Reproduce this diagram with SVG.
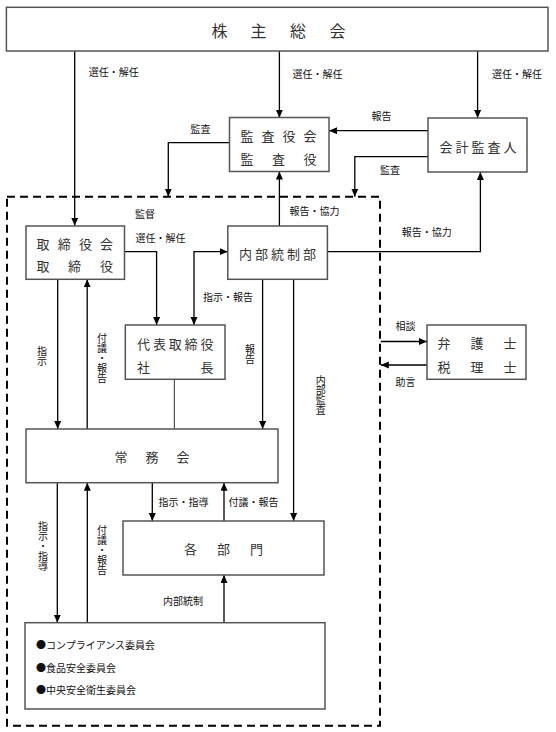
<svg xmlns="http://www.w3.org/2000/svg" width="556" height="732" viewBox="0 0 556 732">
<defs>
<marker id="ah" markerUnits="userSpaceOnUse" markerWidth="9" markerHeight="8" refX="8" refY="3.5" orient="auto">
<path d="M0,0 L8,3.5 L0,7 z" fill="#000"/>
</marker>
<marker id="ahs" markerUnits="userSpaceOnUse" markerWidth="9" markerHeight="8" refX="8" refY="3.5" orient="auto-start-reverse">
<path d="M0,0 L8,3.5 L0,7 z" fill="#000"/>
</marker>
<style>
.box{fill:#fff;stroke:#555;stroke-width:1.5}
.bt{font-family:"Noto Sans CJK JP","Liberation Sans",sans-serif;font-size:13px;fill:#333;text-anchor:middle;dominant-baseline:central}
.big{font-size:16px}
.lb{font-family:"Noto Sans CJK JP","Liberation Sans",sans-serif;font-size:10px;fill:#111;text-anchor:middle;dominant-baseline:central}
.vl{font-family:"Noto Sans CJK JP","Liberation Sans",sans-serif;font-size:10px;fill:#111;writing-mode:vertical-rl;text-orientation:upright}
.li{font-family:"Noto Sans CJK JP","Liberation Sans",sans-serif;font-size:10px;fill:#111;dominant-baseline:central}
.c{fill:none;stroke:#000;stroke-width:1.3}
.ca{fill:none;stroke:#000;stroke-width:1.3;marker-end:url(#ah)}
</style>
</defs>
<rect x="0" y="0" width="556" height="732" fill="#fff"/>

<g id="connectors">
<path class="ca" d="M74.7,51 V225.7"/>
<path class="ca" d="M279.4,51 V117.7"/>
<path class="ca" d="M477.6,51 V118"/>
<path class="ca" d="M428,130.7 H329"/>
<path class="ca" d="M229.5,142.7 H168.3 V196.7"/>
<path class="ca" d="M428,156.7 H354.8 V196.7"/>
<path class="ca" d="M279.4,226 V171.5"/>
<path class="ca" d="M327.4,251.7 H480.4 V172"/>
<path class="ca" d="M125,251.7 H156.6 V325"/>
<path class="c" d="M194,325 V251.7 H227.8" marker-start="url(#ahs)" marker-end="url(#ah)"/>
<path class="ca" d="M57.7,279.3 V429"/>
<path class="ca" d="M87.2,429 V279.3"/>
<path d="M174.4,379.3 V429" fill="none" stroke="#555" stroke-width="1.2"/>
<path class="ca" d="M262.6,279.3 V429"/>
<path class="ca" d="M293.6,279.3 V521"/>
<path class="ca" d="M152.3,482.7 V521"/>
<path class="ca" d="M224,521 V482.7"/>
<path class="ca" d="M57.3,482.7 V622.7"/>
<path class="ca" d="M87.3,622.7 V482.7"/>
<path class="ca" d="M224,622.7 V575"/>
<path class="ca" d="M380.8,341.5 H427"/>
<path class="ca" d="M427,365 H380.8"/>
</g>

<g id="group-boundary">
<rect x="7" y="196.7" width="373" height="529" fill="none" stroke="#000" stroke-width="2" stroke-dasharray="8 5"/>
</g>

<g id="kabunushi">
<rect class="box" x="6.4" y="7.3" width="541.6" height="43.7"/>
<text class="bt big" x="219.6 258.5 298 337.5" y="30">株主総会</text>
</g>

<g id="kansayakukai">
<rect class="box" x="229.5" y="117.5" width="99.5" height="54"/>
<text class="bt" x="247 268 289 310" y="135.5">監査役会</text>
<text class="bt" x="247 278.5 310" y="158.5">監査役</text>
</g>

<g id="kaikei">
<rect class="box" x="428" y="118" width="99" height="54"/>
<text class="bt" x="446 462 478 494 510" y="146">会計監査人</text>
</g>

<g id="torishimariyakukai">
<rect class="box" x="26" y="226" width="98.5" height="53.3"/>
<text class="bt" x="43 64.2 85.4 106.6" y="243.5">取締役会</text>
<text class="bt" x="43 74.5 106.6" y="265.7">取締役</text>
</g>

<g id="naibutousei">
<rect class="box" x="227.8" y="226" width="99.6" height="53.3"/>
<text class="bt" x="245.5 261.5 277.5 293.5 309.5" y="253">内部統制部</text>
</g>

<g id="daihyou">
<rect class="box" x="125.3" y="325" width="99.7" height="54.3"/>
<text class="bt" x="143.5 159.4 175.3 191.1 207" y="343">代表取締役</text>
<text class="bt" x="143.5 207" y="366.7">社長</text>
</g>

<g id="bengoshi">
<rect class="box" x="427" y="325" width="99" height="54.3"/>
<text class="bt" x="444 477 510" y="342.5">弁護士</text>
<text class="bt" x="444 477 510" y="366.5">税理士</text>
</g>

<g id="joumukai">
<rect class="box" x="26" y="429" width="252" height="53.7"/>
<text class="bt" x="121 152 183" y="456">常務会</text>
</g>

<g id="kakubumon">
<rect class="box" x="123" y="521" width="201" height="54"/>
<text class="bt" x="190.5 223.5 256.5" y="548">各部門</text>
</g>

<g id="iinkai">
<rect class="box" x="25" y="622.7" width="300" height="86.3"/>
<text class="li" x="36" y="644">●コンプライアンス委員会</text>
<text class="li" x="36" y="667.3">●食品安全委員会</text>
<text class="li" x="36" y="689.3">●中央安全衛生委員会</text>
</g>

<g id="labels">
<text class="lb" x="113.7" y="71.5">選任・解任</text>
<text class="lb" x="317.5" y="73">選任・解任</text>
<text class="lb" x="517" y="73">選任・解任</text>
<text class="lb" x="381.5" y="115">報告</text>
<text class="lb" x="200.5" y="128">監査</text>
<text class="lb" x="390" y="169">監査</text>
<text class="lb" x="145" y="213">監督</text>
<text class="lb" x="160.5" y="237">選任・解任</text>
<text class="lb" x="314.5" y="210">報告・協力</text>
<text class="lb" x="426.7" y="231">報告・協力</text>
<text class="lb" x="228" y="296.7">指示・報告</text>
<text class="lb" x="405.5" y="325">相談</text>
<text class="lb" x="405.5" y="381.7">助言</text>
<text class="lb" x="183.5" y="501.7">指示・指導</text>
<text class="lb" x="253.5" y="501.7">付議・報告</text>
<text class="lb" x="183" y="600.7">内部統制</text>
<text class="vl" x="42" y="346">指示</text>
<text class="vl" x="102" y="333">付議・報告</text>
<text class="vl" x="250" y="344">報告</text>
<text class="vl" x="320.7" y="375">内部監査</text>
<text class="vl" x="43" y="521.7">指示・指導</text>
<text class="vl" x="102" y="525">付議・報告</text>
</g>
</svg>
